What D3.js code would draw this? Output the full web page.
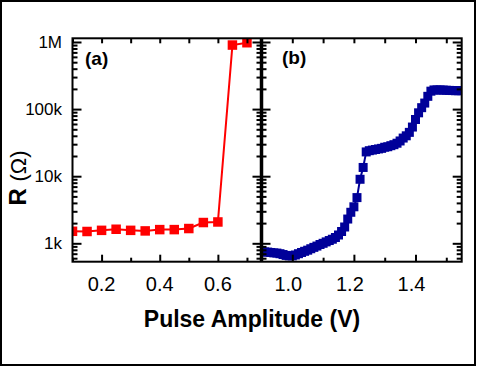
<!DOCTYPE html>
<html>
<head>
<script src="https://d3js.org/d3.v7.min.js"></script>
<style>
  body { margin: 0; background: #fff; }
  text { font-family: Arial, "Liberation Sans", sans-serif; }
</style>
</head>
<body>
<div id="chart"></div>
<script>
// data
var aVolt = [0.10, 0.15, 0.20, 0.25, 0.30, 0.35, 0.40, 0.45, 0.50, 0.55, 0.60, 0.65, 0.70];
var aRes  = [1510, 1500, 1560, 1620, 1560, 1530, 1600, 1600, 1660, 2040, 2080, 900000, 975000];

var bVolt = [0.90, 0.91, 0.92, 0.93, 0.94, 0.95, 0.96, 0.97, 0.98, 0.99,
             1.00, 1.01, 1.02, 1.03, 1.04, 1.05, 1.06, 1.07, 1.08, 1.09,
             1.10, 1.11, 1.12, 1.13, 1.14, 1.15, 1.16, 1.17, 1.18, 1.19,
             1.20, 1.21, 1.22, 1.23, 1.24, 1.25, 1.26, 1.27, 1.28, 1.29,
             1.30, 1.31, 1.32, 1.33, 1.34, 1.35, 1.36, 1.37, 1.38, 1.39,
             1.40, 1.41, 1.42, 1.43, 1.44, 1.45, 1.46, 1.47, 1.48, 1.49,
             1.50, 1.51, 1.52, 1.53, 1.54, 1.55];
var bRes  = [750, 745, 740, 730, 720, 715, 700, 680, 660, 650,
             650, 670, 700, 730, 760, 790, 830, 870, 910, 960,
             1000, 1050, 1100, 1150, 1220, 1330, 1500, 1750, 2300, 2900,
             3500, 4800, 9000, 13500, 23000, 24000, 24500, 25000, 25500, 26000,
             27000, 27500, 28500, 29500, 31000, 33500, 37000, 40000, 45000, 54000,
             70000, 88000, 105000, 123000, 155000, 185000, 193000, 193000, 193000, 192000,
             191000, 190000, 189000, 188000, 188000, 188000];

var yTicks = [1e3, 1e4, 1e5, 1e6];
var yTickLabels = ["1k", "10k", "100k", "1M"];
var aTicks = [0.2, 0.4, 0.6], aMinor = [0.1, 0.3, 0.5, 0.7];
var bTicks = [1.0, 1.2, 1.4], bMinor = [1.1, 1.3, 1.5];

var W = 478, H = 367;
var plotTop = 38.3, plotBottom = 261.7;
var aLeft = 72.5, mid = 261.5, bRight = 461.7;

var svg = d3.select("#chart").append("svg")
    .attr("width", W).attr("height", H);

// frame around the figure
svg.append("rect")
    .attr("x", 1).attr("y", 1).attr("width", 474).attr("height", 364)
    .attr("fill", "none").attr("stroke", "#000").attr("stroke-width", 2);

var y = d3.scaleLog().domain([532, 1.135e6]).range([plotBottom, plotTop]);
var xa = d3.scaleLinear().domain([0.1, 0.75]).range([aLeft, mid]);
var xb = d3.scaleLinear().domain([0.9, 1.55]).range([mid, bRight]);

// minor log ticks
var yMinor = [];
[100, 1000, 10000, 100000].forEach(function(d) {
    for (var k = 2; k <= 9; k++) {
        var v = d * k;
        if (v > 532 && v < 1.135e6) yMinor.push(v);
    }
});

var defs = svg.append("defs");
defs.append("clipPath").attr("id", "clipA")
    .append("rect").attr("x", aLeft).attr("y", plotTop).attr("width", mid - aLeft).attr("height", plotBottom - plotTop);
defs.append("clipPath").attr("id", "clipB")
    .append("rect").attr("x", mid).attr("y", plotTop).attr("width", bRight - mid).attr("height", plotBottom - plotTop);

// series a
var ga = svg.append("g").attr("clip-path", "url(#clipA)");
var aData = aVolt.map(function(v, i) { return [v, aRes[i]]; });
ga.append("path")
    .datum(aData)
    .attr("fill", "none").attr("stroke", "#ff0000").attr("stroke-width", 2)
    .attr("d", d3.line().x(function(d) { return xa(d[0]); }).y(function(d) { return y(d[1]); }));
ga.selectAll("rect").data(aData).enter().append("rect")
    .attr("x", function(d) { return xa(d[0]) - 4.75; })
    .attr("y", function(d) { return y(d[1]) - 4.75; })
    .attr("width", 9.5).attr("height", 9.5)
    .attr("fill", "#ff0000");

// series b
var gb = svg.append("g").attr("clip-path", "url(#clipB)");
var bData = bVolt.map(function(v, i) { return [v, bRes[i]]; });
gb.append("path")
    .datum(bData)
    .attr("fill", "none").attr("stroke", "#000099").attr("stroke-width", 2)
    .attr("d", d3.line().x(function(d) { return xb(d[0]); }).y(function(d) { return y(d[1]); }));
gb.selectAll("rect").data(bData).enter().append("rect")
    .attr("x", function(d) { return xb(d[0]) - 4.5; })
    .attr("y", function(d) { return y(d[1]) - 4.5; })
    .attr("width", 9).attr("height", 9)
    .attr("fill", "#000099");

// axes
function styleAxis(g) {
    g.select(".domain").remove();
    g.selectAll("line").attr("stroke", "#000").attr("stroke-width", 2);
    g.selectAll("text").remove();
}

function xAxes(x, major, minor) {
    svg.append("g").attr("transform", "translate(0," + plotBottom + ")")
        .call(d3.axisTop(x).tickValues(major).tickSize(7)).call(styleAxis);
    svg.append("g").attr("transform", "translate(0," + plotBottom + ")")
        .call(d3.axisTop(x).tickValues(minor).tickSize(4)).call(styleAxis);
    svg.append("g").attr("transform", "translate(0," + plotTop + ")")
        .call(d3.axisBottom(x).tickValues(major).tickSize(5)).call(styleAxis);
    svg.append("g").attr("transform", "translate(0," + plotTop + ")")
        .call(d3.axisBottom(x).tickValues(minor).tickSize(5)).call(styleAxis);
}
xAxes(xa, aTicks, aMinor);
xAxes(xb, bTicks, bMinor);

function yAxis(xpos, side) {
    var ax = side > 0 ? d3.axisRight : d3.axisLeft;
    svg.append("g").attr("transform", "translate(" + xpos + ",0)")
        .call(ax(y).tickValues(yTicks).tickSize(9)).call(styleAxis);
    svg.append("g").attr("transform", "translate(" + xpos + ",0)")
        .call(ax(y).tickValues(yMinor).tickSize(5)).call(styleAxis);
}
yAxis(aLeft, 1);
yAxis(mid, -1);
yAxis(mid, 1);
yAxis(bRight, -1);

// frame lines
svg.append("rect")
    .attr("x", aLeft).attr("y", plotTop).attr("width", bRight - aLeft).attr("height", plotBottom - plotTop)
    .attr("fill", "none").attr("stroke", "#000").attr("stroke-width", 2);
svg.append("line")
    .attr("x1", mid).attr("x2", mid).attr("y1", plotTop).attr("y2", plotBottom)
    .attr("stroke", "#000").attr("stroke-width", 3.5);

// tick labels
svg.selectAll(".ylab").data(yTicks).enter().append("text")
    .attr("x", 62).attr("y", function(d) { return y(d); })
    .attr("dy", "0.36em").attr("text-anchor", "end")
    .attr("font-size", 17)
    .text(function(d, i) { return yTickLabels[i]; });

svg.selectAll(".xalab").data(aTicks).enter().append("text")
    .attr("x", function(d) { return xa(d); }).attr("y", 291)
    .attr("text-anchor", "middle").attr("font-size", 20)
    .text(function(d) { return d3.format(".1f")(d); });

svg.selectAll(".xblab").data(bTicks).enter().append("text")
    .attr("x", function(d) { return xb(d) - 4; }).attr("y", 291)
    .attr("text-anchor", "middle").attr("font-size", 20)
    .text(function(d) { return d3.format(".1f")(d); });

// panel labels
svg.append("text").attr("x", 85).attr("y", 65)
    .attr("font-size", 19).attr("font-weight", "bold").text("(a)");
svg.append("text").attr("x", 282).attr("y", 64)
    .attr("font-size", 19).attr("font-weight", "bold").text("(b)");

// axis titles
svg.append("text").attr("x", 252).attr("y", 327)
    .attr("text-anchor", "middle").attr("font-size", 23).attr("font-weight", "bold")
    .text("Pulse Amplitude (V)");

var yt = svg.append("text")
    .attr("transform", "translate(26,178) rotate(-90)")
    .attr("text-anchor", "middle").attr("font-size", 22);
yt.append("tspan").attr("font-weight", "bold").attr("font-size", 24).text("R ");
yt.append("tspan").text("(\u03A9)");
</script>
</body>
</html>
